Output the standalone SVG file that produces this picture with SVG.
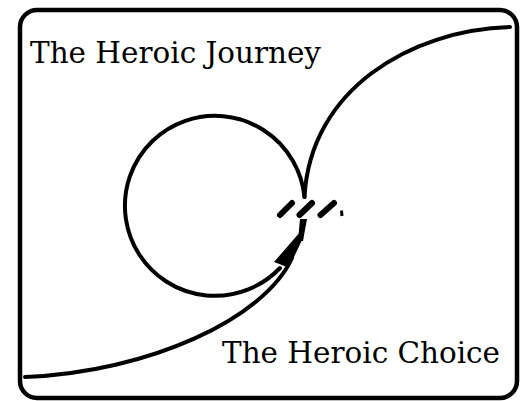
<svg xmlns="http://www.w3.org/2000/svg" width="529" height="401" viewBox="0 0 529 401">
<style>
.ln{fill:none;stroke:#000;stroke-linecap:round}
.lbl{font-family:"DejaVu Serif","Liberation Serif",serif;font-size:29px;fill:#000}
.h{stroke:#000;stroke-width:6;stroke-linecap:round}
</style>
<rect width="529" height="401" fill="#fff"/>
<g id="frame"><rect x="20" y="10" width="497" height="388" rx="17" class="ln" stroke-width="4.5"/></g>
<g id="title"><text class="lbl" x="30" y="63" textLength="291" lengthAdjust="spacingAndGlyphs">The Heroic Journey</text></g>
<g id="choice-label"><text class="lbl" x="222" y="363" textLength="278" lengthAdjust="spacingAndGlyphs">The Heroic Choice</text></g>
<g id="connectors">
<path class="ln" stroke-width="4" d="M 304.5 197 A 90 90 0 1 0 280 268"/>
<path class="ln" stroke-width="4" d="M 510 27 C 410 30, 310 90, 304.5 197"/>
<path class="ln" stroke-width="4" d="M 25 377 C 150 372, 265 318, 292 258"/>
<path d="M 300 219 L 307 219 L 303 241 L 298 241 Z" fill="#000"/>
<path d="M 301 231 L 274 262 L 287 267 L 294 257 L 303 238 Z" fill="#000"/>
</g>
<g id="choice-point">
<line class="h" x1="280" y1="215" x2="292" y2="203"/>
<line class="h" x1="299.5" y1="215" x2="312" y2="203"/>
<line class="h" x1="320.5" y1="215" x2="334" y2="203"/>
<line x1="341.5" y1="210.5" x2="342" y2="216" stroke="#000" stroke-width="3"/>
</g>
</svg>
